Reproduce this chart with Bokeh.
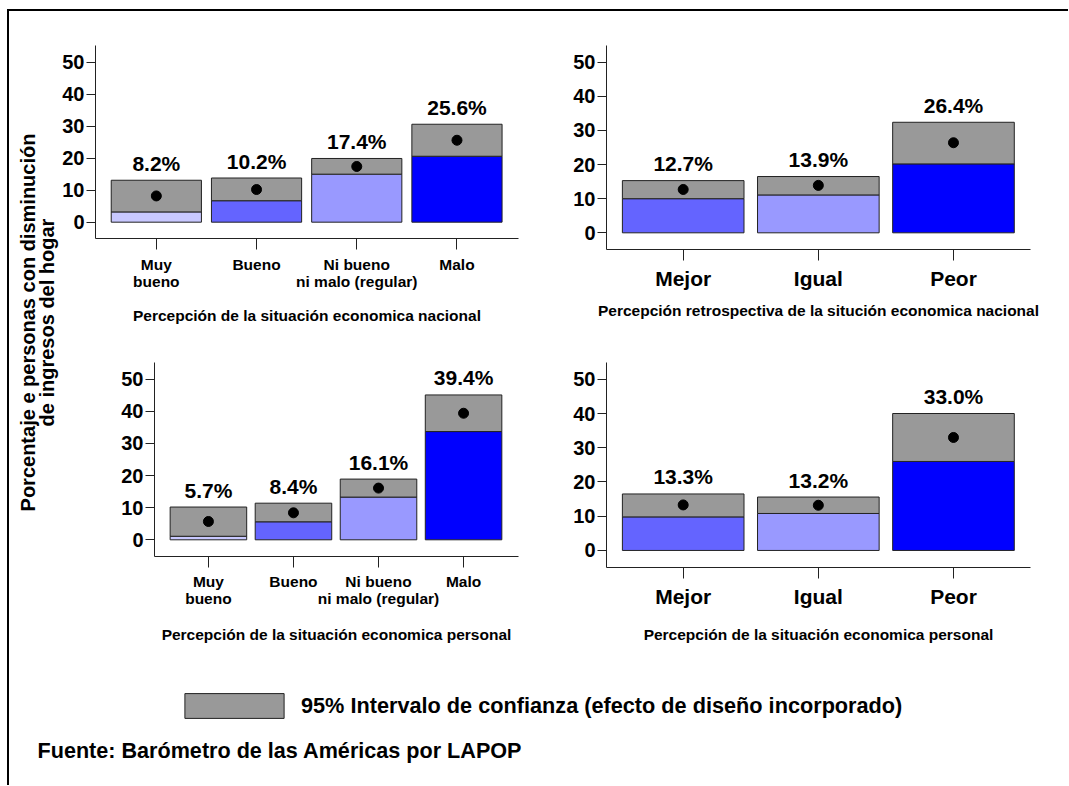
from bokeh.plotting import figure
from bokeh.models import Range1d, FixedTicker, Label, Legend, LegendItem, ColumnDataSource
from bokeh.layouts import column, row
from bokeh.embed import file_html
from bokeh.resources import INLINE
from bokeh.core.properties import value

FONT = "Liberation Sans"

# ---------------- data ----------------
cats_nat = ["Muy\nbueno", "Bueno", "Ni bueno\nni malo (regular)", "Malo"]
cats_ret = ["Mejor", "Igual", "Peor"]

# Panel 1: Percepción de la situación economica nacional
p1_est = [8.2, 10.2, 17.4, 25.6]
p1_lo = [3.2, 6.7, 15.0, 20.6]
p1_hi = [13.1, 13.8, 19.9, 30.6]

# Panel 2: Percepción retrospectiva de la situción economica nacional
p2_est = [12.7, 13.9, 26.4]
p2_lo = [10.0, 11.1, 20.2]
p2_hi = [15.3, 16.5, 32.4]

# Panel 3: Percepción de la situación economica personal
p3_est = [5.7, 8.4, 16.1, 39.4]
p3_lo = [1.1, 5.6, 13.3, 33.7]
p3_hi = [10.2, 11.4, 18.9, 45.1]

# Panel 4: Percepción de la situación economica personal (Mejor/Igual/Peor)
p4_est = [13.3, 13.2, 33.0]
p4_lo = [9.8, 10.8, 26.0]
p4_hi = [16.5, 15.6, 40.0]

y_ticks = [0, 10, 20, 30, 40, 50]

colors_4 = ["#C8C8FF", "#6464FF", "#9999FF", "#0000FF"]
colors_3 = ["#6464FF", "#9999FF", "#0000FF"]
CI_COLOR = "#999999"
LINE = "#222222"

title_nat = "Percepción de la situación economica nacional"
title_ret = "Percepción retrospectiva de la situción economica nacional"
title_per = "Percepción de la situación economica personal"
ylabel = "Porcentaje e personas con disminución\nde ingresos del hogar"
legend_text = "95% Intervalo de confianza (efecto de diseño incorporado)"
source_text = "Fuente: Barómetro de las Américas por LAPOP"


def no_align(p):
    if hasattr(p, "frame_align"):
        p.frame_align = False


def make_panel(cats, est, lo, hi, colors, xtitle, width, height, borders,
               xr, yr, cat_size, cat_standoff, title_standoff):
    xs = list(range(1, len(cats) + 1))
    left, right, top, bottom = borders
    p = figure(width=width, height=height, x_range=Range1d(*xr), y_range=Range1d(*yr),
               output_backend="svg", toolbar_location=None,
               min_border_left=left, min_border_right=right,
               min_border_top=top, min_border_bottom=bottom)
    no_align(p)
    p.outline_line_color = None
    p.xgrid.visible = False
    p.ygrid.visible = False

    src = ColumnDataSource(dict(
        x=xs, est=est, lo=lo, hi=hi, color=colors,
        lab=[f"{v:.1f}%" for v in est],
    ))
    p.vbar(x="x", width=0.9, bottom=0, top="lo", source=src,
           fill_color="color", line_color=LINE, line_width=1)
    p.vbar(x="x", width=0.9, bottom="lo", top="hi", source=src,
           fill_color=CI_COLOR, line_color=LINE, line_width=1)
    p.scatter(x="x", y="est", source=src, size=10, color="black")
    p.text(x="x", y="hi", text="lab", source=src, text_align="center",
           text_baseline="alphabetic", y_offset=-17,
           text_font=value(FONT), text_font_style="bold", text_font_size="21px",
           text_color="black")

    # y axis
    ya = p.yaxis[0]
    ya.ticker = FixedTicker(ticks=y_ticks)
    ya.minor_tick_line_color = None
    ya.major_tick_in = 0
    ya.major_tick_out = 9
    ya.major_label_standoff = 2
    ya.major_label_text_font = FONT
    ya.major_label_text_font_style = "bold"
    ya.major_label_text_font_size = "20px"
    ya.major_label_text_color = "black"
    ya.axis_line_color = LINE
    ya.major_tick_line_color = LINE

    # x axis
    xa = p.xaxis[0]
    xa.ticker = FixedTicker(ticks=xs)
    xa.major_label_overrides = {x: c for x, c in zip(xs, cats)}
    xa.minor_tick_line_color = None
    xa.major_tick_in = 0
    xa.major_tick_out = 11
    xa.major_label_standoff = cat_standoff
    xa.major_label_text_font = FONT
    xa.major_label_text_font_style = "bold"
    xa.major_label_text_font_size = cat_size
    xa.major_label_text_line_height = 1.0
    xa.major_label_text_color = "black"
    xa.axis_line_color = LINE
    xa.major_tick_line_color = LINE
    xa.axis_label = xtitle
    xa.axis_label_standoff = title_standoff
    xa.axis_label_text_font = FONT
    xa.axis_label_text_font_style = "bold"
    xa.axis_label_text_font_size = "15.5px"
    xa.axis_label_text_color = "black"
    return p


p1 = make_panel(cats_nat, p1_est, p1_lo, p1_hi, colors_4, title_nat,
                476, 325, (35, 17, 34, 98), (0.393, 4.614), (-5.1, 55.2),
                "15.5px", 6, 14)
p2 = make_panel(cats_ret, p2_est, p2_lo, p2_hi, colors_3, title_ret,
                533, 325, (71, 38, 34, 87), (0.4325, 3.57), (-4.89, 54.9),
                "21px", 6, 9)
p3 = make_panel(cats_nat, p3_est, p3_lo, p3_hi, colors_4, title_per,
                476, 325, (95, 17, 26, 105), (0.366, 4.646), (-5.2, 55.2),
                "15.5px", 5, 16)
p4 = make_panel(cats_ret, p4_est, p4_lo, p4_hi, colors_3, title_per,
                533, 325, (71, 38, 26, 94), (0.4325, 3.57), (-4.98, 54.9),
                "21px", 6, 15)

# y label figure
ylab = figure(width=50, height=650, output_backend="svg", toolbar_location=None,
              x_axis_location=None, y_axis_location=None,
              min_border=0, x_range=Range1d(0, 1), y_range=Range1d(0, 1))
no_align(ylab)
ylab.outline_line_color = None
ylab.grid.visible = False
ylab.add_layout(Label(x=28, y=339, x_units="screen", y_units="screen", text=ylabel,
                      angle=90, angle_units="deg", text_align="center",
                      text_baseline="middle", text_font=FONT, text_font_style="bold",
                      text_font_size="20px", text_line_height=0.9, text_color="black"))

# footer figure
foot = figure(width=1059, height=124, output_backend="svg", toolbar_location=None,
              x_axis_location=None, y_axis_location=None,
              min_border=0, x_range=Range1d(0, 1), y_range=Range1d(0, 1))
no_align(foot)
foot.outline_line_color = None
foot.grid.visible = False
r = foot.vbar(x=[5], top=[5], bottom=[4], width=0.1, fill_color=CI_COLOR, line_color=LINE)
leg = Legend(items=[LegendItem(label=legend_text, renderers=[r])],
             location=(163, 64), glyph_width=124, glyph_height=31,
             label_standoff=5, padding=0, margin=0, border_line_color=None,
             background_fill_alpha=0, label_text_font=FONT,
             label_text_font_style="bold", label_text_font_size="21.7px",
             label_text_color="black",
             label_height=31, label_text_baseline="middle")
foot.add_layout(leg)
foot.add_layout(Label(x=28, y=35, x_units="screen", y_units="screen", text=source_text,
                      text_baseline="middle", text_font=FONT, text_font_style="bold",
                      text_font_size="21.6px", text_color="black"))

layout = column(
    row(ylab, column(row(column(p1), column(p2)), row(column(p3), column(p4)))),
    foot,
    styles={"margin-top": "9px", "margin-left": "7px",
            "border-top": "2px solid black", "border-left": "2px solid black"},
)

open("out.html", "w").write(file_html(layout, INLINE))
